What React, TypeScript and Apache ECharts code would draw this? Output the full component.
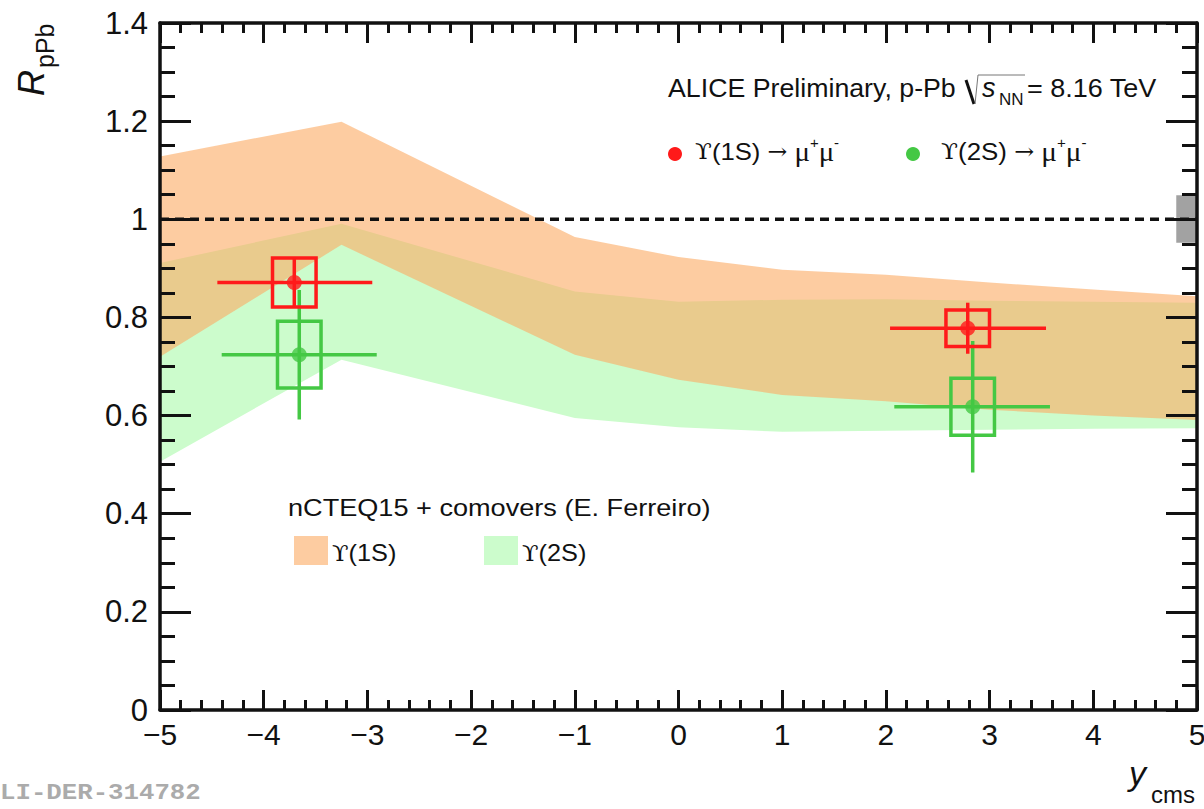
import React, { useEffect, useRef } from 'react';
import * as echarts from 'echarts';

// Model bands (nCTEQ15 + comovers): rapidity nodes with lower / upper R_pPb
const bandRapidity = [-5, -3.25, -1, 0, 1, 2, 3, 4, 5];
const band1SLow = [0.72, 0.948, 0.724, 0.673, 0.642, 0.629, 0.612, 0.6, 0.591];
const band1SHigh = [1.128, 1.199, 0.964, 0.923, 0.897, 0.887, 0.871, 0.857, 0.843];
const band2SLow = [0.506, 0.714, 0.595, 0.576, 0.567, 0.569, 0.571, 0.573, 0.574];
const band2SHigh = [0.911, 0.991, 0.853, 0.832, 0.836, 0.837, 0.834, 0.832, 0.83];

// Upsilon(1S) measurement
const rap1S = [-3.705, 2.789];
const rpPb1S = [0.871, 0.778];
const binLo1S = [-4.447, 2.04];
const binHi1S = [-2.953, 3.544];
const stat1S = [0.05, 0.052];
const syst1S = [0.05, 0.037];

// Upsilon(2S) measurement
const rap2S = [-3.657, 2.837];
const rpPb2S = [0.724, 0.618];
const binLo2S = [-4.405, 2.081];
const binHi2S = [-2.91, 3.582];
const stat2S = [0.132, 0.134];
const syst2S = [0.068, 0.058];

// Global (correlated) uncertainty box at unity
const globalRap = [4.8, 5];
const globalR = [0.952, 1.049];

const unityLine = [[-5, 1], [5, 1]];

const SANS = '"Liberation Sans", Arial, Helvetica, sans-serif';
const SERIF = '"DejaVu Serif", "Liberation Serif", serif';
const MONO = '"Liberation Mono", "DejaVu Sans Mono", monospace';
const INK = '#111';
const RED = '#ff1a1a';
const GREEN = '#44c844';
const BAND1S = 'rgba(252,171,102,0.61)';
const BAND2S = '#ccfccc';
const BOX_HALF = 0.21;
const BAR_W = 3.5;

function bandRenderer(low: number[], high: number[], fill: string) {
  return (params: any, api: any) => {
    if (params.dataIndex !== 0) return null;
    const top = bandRapidity.map((x, i) => api.coord([x, high[i]]));
    const bottom = bandRapidity.map((x, i) => api.coord([x, low[i]])).reverse();
    return { type: 'polygon', shape: { points: top.concat(bottom) }, style: { fill } };
  };
}

function pointRenderer(color: string) {
  return (_params: any, api: any) => {
    const x = api.value(0), y = api.value(1);
    const xl = api.value(2), xh = api.value(3);
    const st = api.value(4), sy = api.value(5);
    const pL = api.coord([xl, y]), pR = api.coord([xh, y]);
    const pT = api.coord([x, y + st]), pB = api.coord([x, y - st]);
    const b1 = api.coord([x - BOX_HALF, y + sy]), b2 = api.coord([x + BOX_HALF, y - sy]);
    const ls = { stroke: color, lineWidth: BAR_W };
    return {
      type: 'group',
      children: [
        { type: 'rect', shape: { x: b1[0], y: b1[1], width: b2[0] - b1[0], height: b2[1] - b1[1] }, style: { fill: 'none', ...ls } },
        { type: 'line', shape: { x1: pL[0], y1: pL[1], x2: pR[0], y2: pR[1] }, style: ls },
        { type: 'line', shape: { x1: pT[0], y1: pT[1], x2: pB[0], y2: pB[1] }, style: ls },
      ],
    };
  };
}

function rectRenderer(fill: string) {
  return (params: any, api: any) => {
    if (params.dataIndex !== 0) return null;
    const a = api.coord([globalRap[0], globalR[1]]);
    const b = api.coord([globalRap[1], globalR[0]]);
    return { type: 'rect', shape: { x: a[0], y: a[1], width: b[0] - a[0], height: b[1] - a[1] }, style: { fill } };
  };
}

type TxtOpts = { family?: string; italic?: boolean; bold?: boolean; color?: string; sx?: number; rot?: number; rich?: any };
function txt(x: number, y: number, text: string, size: number, o: TxtOpts = {}) {
  return {
    type: 'text',
    x,
    y,
    scaleX: o.sx ?? 1,
    rotation: o.rot ?? 0,
    z: 100,
    silent: true,
    style: {
      text,
      font: `${o.italic ? 'italic ' : ''}${o.bold ? 'bold ' : ''}${size}px ${o.family ?? SANS}`,
      fill: o.color ?? INK,
      textAlign: 'left',
      textVerticalAlign: 'middle',
      align: 'left',
      verticalAlign: 'middle',
      rich: o.rich,
    },
  };
}

const decayRich = {
  u: { fontFamily: SERIF, fontSize: 23, lineHeight: 30, fill: INK, color: INK },
  n: { fontFamily: SANS, fontSize: 24, lineHeight: 30, fill: INK, color: INK },
  a: { fontFamily: SERIF, fontSize: 22, lineHeight: 30, fill: INK, color: INK },
  m: { fontFamily: '"Liberation Serif", serif', fontSize: 27, lineHeight: 30, fill: INK, color: INK },
  p: { fontFamily: SANS, fontSize: 14, lineHeight: 14, verticalAlign: 'top', fill: INK, color: INK },
};

const modelRich = {
  u: { fontFamily: SERIF, fontSize: 22, lineHeight: 28, fill: INK, color: INK },
  n: { fontFamily: SANS, fontSize: 23, lineHeight: 28, fill: INK, color: INK },
};

const tickStyle = { color: INK, width: 3 };

const axisCommon = {
  type: 'value' as const,
  z: 10,
  splitLine: { show: false },
  axisLine: { show: true, onZero: false, lineStyle: { color: INK, width: 3.5 } },
};

const option: any = {
  animation: false,
  backgroundColor: '#fff',
  grid: { left: 160, right: 7, top: 23, bottom: 99, containLabel: false, outerBoundsMode: 'none' },
  xAxis: [
    {
      ...axisCommon,
      position: 'bottom',
      min: -5,
      max: 5,
      interval: 1,
      axisTick: { show: true, inside: true, length: 20, lineStyle: tickStyle },
      minorTick: { show: true, splitNumber: 5, length: 10, lineStyle: tickStyle },
      axisLabel: {
        show: true,
        margin: 9,
        fontSize: 30,
        fontFamily: SANS,
        color: INK,
        showMinLabel: true,
        showMaxLabel: true,
        formatter: (v: number) => (v < 0 ? '\u2212' + Math.abs(v) : String(v)),
      },
    },
    {
      ...axisCommon,
      position: 'top',
      min: -5,
      max: 5,
      interval: 1,
      axisTick: { show: true, inside: true, length: 20, lineStyle: tickStyle },
      minorTick: { show: true, splitNumber: 5, length: 10, lineStyle: tickStyle },
      axisLabel: { show: false },
    },
  ],
  yAxis: [
    {
      ...axisCommon,
      position: 'left',
      min: 0,
      max: 1.4,
      interval: 0.2,
      axisTick: { show: true, inside: true, length: 31, lineStyle: tickStyle },
      minorTick: { show: true, splitNumber: 4, length: 15, lineStyle: tickStyle },
      axisLabel: {
        show: true,
        margin: 12,
        fontSize: 31,
        fontFamily: SANS,
        color: INK,
        showMinLabel: true,
        showMaxLabel: true,
        formatter: (v: number) => String(Math.round(v * 10) / 10),
      },
    },
    {
      ...axisCommon,
      position: 'right',
      min: 0,
      max: 1.4,
      interval: 0.2,
      axisTick: { show: true, inside: true, length: 31, lineStyle: tickStyle },
      minorTick: { show: true, splitNumber: 4, length: 15, lineStyle: tickStyle },
      axisLabel: { show: false },
    },
  ],
  series: [
    {
      name: 'band2S',
      type: 'custom',
      z: 1,
      clip: true,
      encode: { x: 0, y: [1, 2] },
      data: bandRapidity.map((x, i) => [x, band2SLow[i], band2SHigh[i]]),
      renderItem: bandRenderer(band2SLow, band2SHigh, BAND2S),
    },
    {
      name: 'band1S',
      type: 'custom',
      z: 1,
      clip: true,
      encode: { x: 0, y: [1, 2] },
      data: bandRapidity.map((x, i) => [x, band1SLow[i], band1SHigh[i]]),
      renderItem: bandRenderer(band1SLow, band1SHigh, BAND1S),
    },
    {
      name: 'unity',
      type: 'line',
      z: 3,
      symbol: 'none',
      data: unityLine,
      lineStyle: { color: INK, width: 3.5, type: [9, 6] },
    },
    {
      name: 'globalUnc',
      type: 'custom',
      z: 3,
      encode: { x: 0, y: 1 },
      data: [[globalRap[0], globalR[0]], [globalRap[1], globalR[1]]],
      renderItem: rectRenderer('#a2a2a2'),
    },
    {
      name: 'ups2S',
      type: 'custom',
      z: 4,
      encode: { x: 0, y: 1 },
      data: rap2S.map((x, i) => [x, rpPb2S[i], binLo2S[i], binHi2S[i], stat2S[i], syst2S[i]]),
      renderItem: pointRenderer(GREEN),
    },
    {
      name: 'ups2SMarker',
      type: 'scatter',
      z: 5,
      symbol: 'circle',
      symbolSize: 15,
      itemStyle: { color: GREEN },
      data: rap2S.map((x, i) => [x, rpPb2S[i]]),
    },
    {
      name: 'ups1S',
      type: 'custom',
      z: 6,
      encode: { x: 0, y: 1 },
      data: rap1S.map((x, i) => [x, rpPb1S[i], binLo1S[i], binHi1S[i], stat1S[i], syst1S[i]]),
      renderItem: pointRenderer(RED),
    },
    {
      name: 'ups1SMarker',
      type: 'scatter',
      z: 7,
      symbol: 'circle',
      symbolSize: 15,
      itemStyle: { color: RED },
      data: rap1S.map((x, i) => [x, rpPb1S[i]]),
    },
  ],
  graphic: [
    // axis titles
    txt(31, 96, 'R', 36, { italic: true, rot: Math.PI / 2 }),
    txt(45, 68, 'pPb', 25, { rot: Math.PI / 2 }),
    txt(1129, 773, 'y', 34, { italic: true }),
    txt(1151, 794, 'cms', 24),
    // header
    txt(668, 88, 'ALICE Preliminary, p-Pb', 25, { sx: 1.07 }),
    { type: 'line', z: 100, silent: true, shape: { x1: 966, y1: 80, x2: 974, y2: 104 }, style: { stroke: INK, lineWidth: 3 } },
    { type: 'polyline', z: 100, silent: true, shape: { points: [[975, 104], [978, 75], [1025, 75]] }, style: { stroke: '#777', lineWidth: 1, fill: 'none' } },
    txt(982, 88, 's', 27, { italic: true }),
    txt(999, 99, 'NN', 17),
    txt(1027, 88, '= 8.16 TeV', 25, { sx: 1.08 }),
    // data legend
    { type: 'circle', z: 100, silent: true, shape: { cx: 675, cy: 154, r: 7 }, style: { fill: RED } },
    txt(695, 151.5, '{u|\u03d2}{n|(1S) }{a|\u2192}{n| }{m|\u03bc}{p|+}{m|\u03bc}{p|-}', 24, { sx: 1.07, rich: decayRich }),
    { type: 'circle', z: 100, silent: true, shape: { cx: 913, cy: 154, r: 7 }, style: { fill: GREEN } },
    txt(941, 151.5, '{u|\u03d2}{n|(2S) }{a|\u2192}{n| }{m|\u03bc}{p|+}{m|\u03bc}{p|-}', 24, { sx: 1.08, rich: decayRich }),
    // model legend
    txt(288, 508, 'nCTEQ15 + comovers (E. Ferreiro)', 24, { sx: 1.13 }),
    { type: 'rect', z: 100, silent: true, shape: { x: 294, y: 536, width: 34, height: 29 }, style: { fill: '#fdcca1' } },
    txt(332, 553, '{u|\u03d2}{n|(1S)}', 23, { sx: 1.1, rich: modelRich }),
    { type: 'rect', z: 100, silent: true, shape: { x: 484, y: 536, width: 34, height: 29 }, style: { fill: BAND2S } },
    txt(522, 553, '{u|\u03d2}{n|(2S)}', 23, { sx: 1.1, rich: modelRich }),
    // figure id
    txt(0, 793, 'LI-DER-314782', 22, { family: MONO, bold: true, color: '#ababab', sx: 1.17 }),
  ],
};

export default function App() {
  const ref = useRef<HTMLDivElement>(null);
  useEffect(() => {
    document.body.style.margin = '0';
    const chart = echarts.init(ref.current!, null, { renderer: 'svg' });
    chart.setOption(option);
    return () => chart.dispose();
  }, []);
  return <div ref={ref} style={{ width: 1204, height: 809 }} />;
}
